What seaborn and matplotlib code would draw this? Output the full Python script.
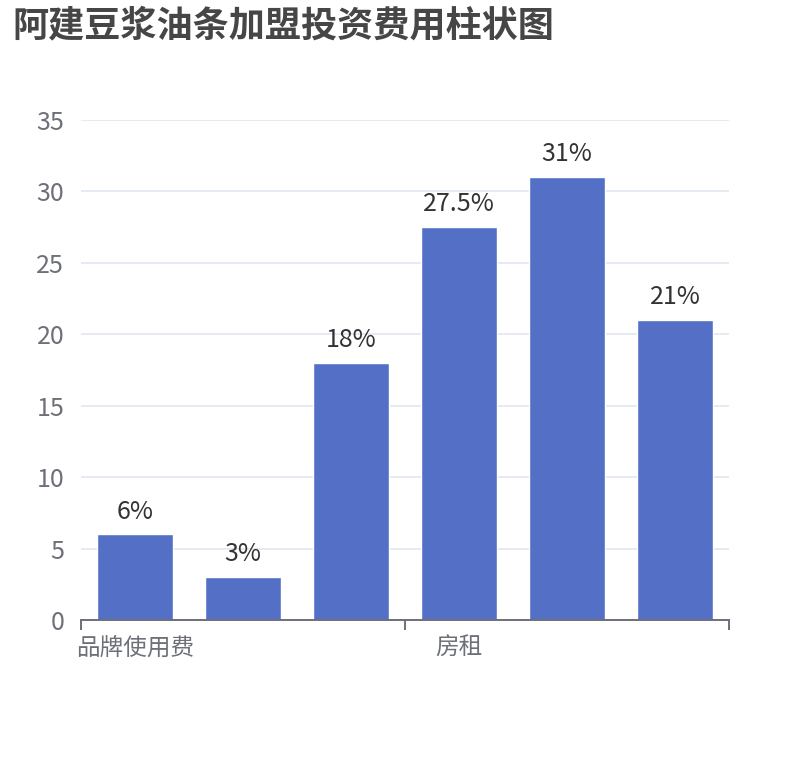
import matplotlib
matplotlib.use('Agg')
import matplotlib.pyplot as plt
import seaborn as sns
import pandas as pd

# data
categories = ['品牌使用费', '加盟费', '设备费', '房租', '装修费', '流动资金']
values = [6, 3, 18, 27.5, 31, 21]
bar_labels = ['6%', '3%', '18%', '27.5%', '31%', '21%']
y_ticks = [0, 5, 10, 15, 20, 25, 30, 35]
title = '阿建豆浆油条加盟投资费用柱状图'

sns.set_style('white')
plt.rcParams['font.family'] = ['Noto Sans CJK SC', 'DejaVu Sans']

df = pd.DataFrame({'item': categories, 'cost': values})

fig = plt.figure(figsize=(8.1, 7.6), dpi=100)
ax = fig.add_axes([0.1, 1 - 620 / 760, 0.8, 500 / 760])

sns.barplot(data=df, x='item', y='cost', color='#5470c6', saturation=1,
            width=0.7, ax=ax, zorder=3)

ax.set_xlim(-0.5, len(categories) - 0.5)
ax.set_ylim(0, 35)
ax.set_yticks(y_ticks)
ax.yaxis.grid(True, color='#e0e6f1', linewidth=1.2, zorder=0)
ax.set_axisbelow(True)

for s in ['top', 'right', 'left']:
    ax.spines[s].set_visible(False)
ax.spines['bottom'].set_color('#6e7079')
ax.spines['bottom'].set_linewidth(1.4)
ax.spines['bottom'].set_zorder(4)

# ticks on category boundaries, labels every third category
ax.set_xticks([-0.5, 2.5, 5.5])
ax.set_xticklabels([])
ax.set_xticks([0, 3], minor=True)
ax.set_xticklabels([categories[0], categories[3]], minor=True)
ax.tick_params(axis='x', which='major', bottom=True, length=7, width=1.4,
               color='#6e7079', direction='out')
ax.tick_params(axis='x', which='minor', bottom=True, length=0, pad=12,
               labelsize=17, labelcolor='#6e7079')
ax.tick_params(axis='y', length=0, pad=12, labelsize=18, labelcolor='#6e7079')
ax.set_xlabel('')
ax.set_ylabel('')

for i, (v, lab) in enumerate(zip(values, bar_labels)):
    ax.annotate(lab, (i, v), xytext=(0, 7), textcoords='offset points',
                ha='center', va='bottom', fontsize=18, color='#333333')

fig.text(12 / 810, 1 - 26 / 760, title, ha='left', va='center',
         fontsize=26, fontweight='bold', color='#464646')

fig.savefig('out.png', dpi=100, facecolor='white')
